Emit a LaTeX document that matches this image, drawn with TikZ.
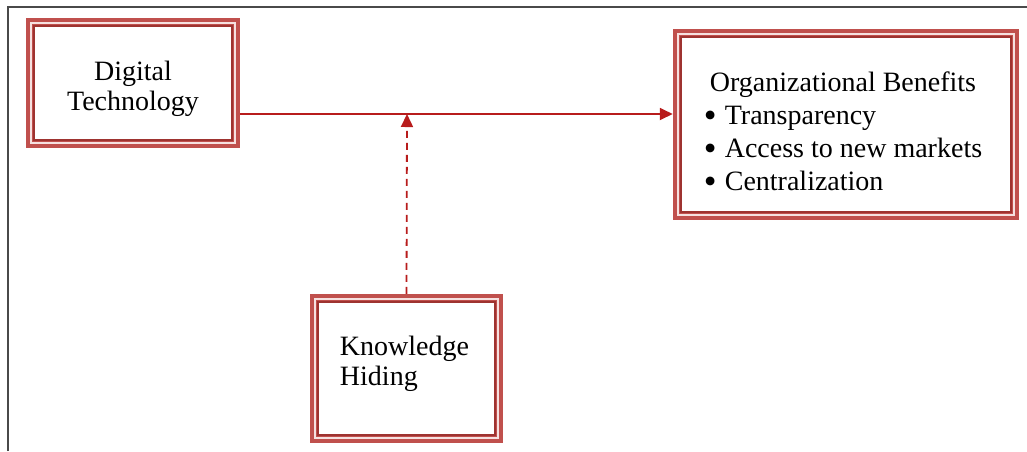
\documentclass[tikz,border=0pt]{standalone}
\usepackage{fontspec}
\setmainfont{Liberation Serif}
\usetikzlibrary{arrows.meta}
\definecolor{boxred}{HTML}{C0504D}
\definecolor{innerred}{HTML}{9E3330}
\definecolor{gappink}{HTML}{F6E1E0}
\definecolor{arrred}{HTML}{B81C1C}
\definecolor{framegray}{HTML}{4A4A4A}
\tikzset{
  framebox/.style={draw=boxred, line width=7.5pt, fill=white, inner sep=0pt},
  innerline/.style={draw=innerred, line width=2pt},
  gapline/.style={draw=gappink, line width=2.5pt},
  boxtext/.style={inner sep=0pt, font=\fontsize{28}{30}\selectfont},
  arr/.style={draw=arrred, line width=1.8pt, -{Triangle[length=13pt,width=12pt]}},
  dashline/.style={dash pattern=on 7pt off 5pt},
}
\newcommand{\bul}{\makebox[21pt][l]{\raisebox{-0.09em}{\scalebox{1.3}{\textbullet}}}}
\begin{document}
\begin{tikzpicture}[x=1pt,y=-1pt]
\useasboundingbox (0,0) rectangle (1027,451);
\fill[white] (0,0) rectangle (1027,451);
% outer frame
\coordinate (F1) at (8,451);
\coordinate (F2) at (8,7);
\coordinate (F3) at (1027,7);
\draw[framegray, line width=1.5pt] (F1) -- (F2) -- (F3);
% boxes
\node[framebox, minimum width=207pt, minimum height=123pt] (DT) at (133,83) {};
\node[framebox, minimum width=339pt, minimum height=184pt] (OB) at (846,124.5) {};
\node[framebox, minimum width=186pt, minimum height=142pt] (KH) at (406.5,368.5) {};
\foreach \n in {DT,OB,KH}{
  \draw[gapline] ([xshift=5.25pt,yshift=-5.25pt]\n.north west) rectangle ([xshift=-5.25pt,yshift=5.25pt]\n.south east);
  \draw[innerline] ([xshift=8pt,yshift=-8pt]\n.north west) rectangle ([xshift=-8pt,yshift=8pt]\n.south east);
}
% texts
\node[boxtext, align=center] (DTt) at ([yshift=-6pt]DT.center) {Digital\\Technology};
\node[boxtext] (OBt) at ([xshift=-3pt,yshift=-10pt]OB.center) {\fontsize{28}{33}\selectfont
  \begin{tabular}{@{}l@{}}
  \multicolumn{1}{c}{Organizational Benefits}\\
  \bul Transparency\\
  \bul Access to new markets\\
  \bul Centralization
  \end{tabular}};
\node[boxtext, align=left] (KHt) at ([xshift=-2pt,yshift=5pt]KH.center) {Knowledge\\Hiding};
% connectors
\coordinate (J) at (407,114);
\draw[arr] (DT.east |- J) -- (OB.west |- J);
\draw[arr, dashline] (KH.north) -- (J);
\end{tikzpicture}
\end{document}
